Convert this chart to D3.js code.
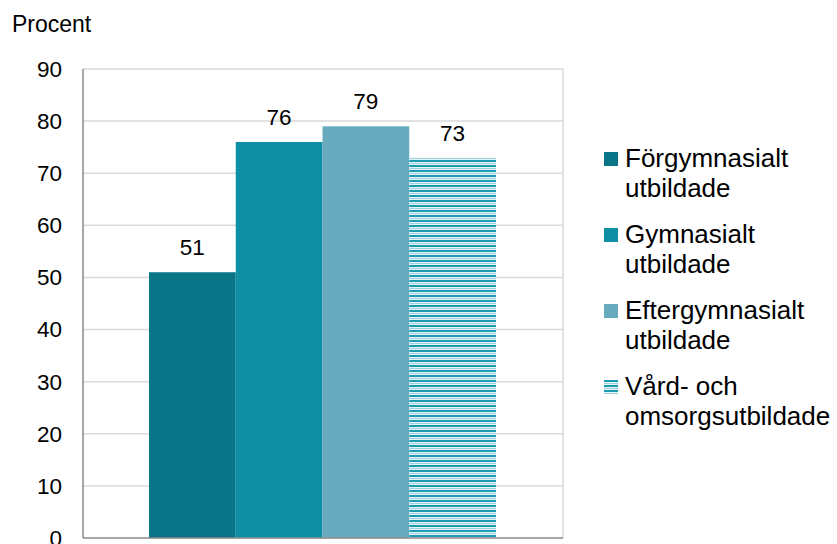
<!DOCTYPE html>
<html>
<head>
<meta charset="utf-8">
<script src="https://cdn.jsdelivr.net/npm/d3@7"></script>
<style>
  body { margin: 0; background: #fff; }
  svg { font-family: 'Liberation Sans', Arial, sans-serif; }
</style>
</head>
<body>
<div id="chart"></div>
<script>
const groups = ['Förgymnasialt utbildade', 'Gymnasialt utbildade', 'Eftergymnasialt utbildade', 'Vård- och omsorgsutbildade'];
const legendLines = [['Förgymnasialt', 'utbildade'], ['Gymnasialt', 'utbildade'], ['Eftergymnasialt', 'utbildade'], ['Vård- och', 'omsorgsutbildade']];
const values = [51, 76, 79, 73];
const yTicks = [0, 10, 20, 30, 40, 50, 60, 70, 80, 90];
const colors = ['#0b7588', '#0f8fa4', '#69abbe', 'url(#stripes)'];

const width = 837;
const height = 544;
const margin = { top: 69, right: 274, bottom: 6, left: 83 };
const svg = d3.select('#chart').append('svg').attr('width', width).attr('height', height);

const defs = svg.append('defs');
const pat = defs.append('pattern').attr('id', 'stripes').attr('patternUnits', 'userSpaceOnUse')
  .attr('width', 8).attr('height', 5);
pat.append('rect').attr('width', 8).attr('height', 5).attr('fill', '#e6f4f7');
pat.append('rect').attr('y', 0).attr('width', 8).attr('height', 2).attr('fill', '#1d9cb1');
pat.append('rect').attr('y', 3).attr('width', 8).attr('height', 1).attr('fill', '#9fd2dc');

const x0 = margin.left;
const x1 = width - margin.right;
const y = d3.scaleLinear().domain([0, 90]).range([height - margin.bottom, margin.top]);
const x = d3.scaleBand().domain(groups).range([x0 + 66, x1 - 67]).padding(0);

// gridlines
svg.append('g').selectAll('line').data(yTicks.filter(d => d > 0)).join('line')
  .attr('x1', x0).attr('x2', x1)
  .attr('y1', d => y(d)).attr('y2', d => y(d))
  .attr('stroke', '#d9d9d9').attr('stroke-width', 1.5);
svg.append('line').attr('x1', x1).attr('x2', x1).attr('y1', y(90)).attr('y2', y(0))
  .attr('stroke', '#d9d9d9').attr('stroke-width', 1.5);

// bars
svg.append('g').selectAll('rect').data(values).join('rect')
  .attr('x', (d, i) => x(groups[i]))
  .attr('width', x.bandwidth())
  .attr('y', d => y(d))
  .attr('height', d => y(0) - y(d))
  .attr('fill', (d, i) => colors[i]);

// value labels
svg.append('g').selectAll('text').data(values).join('text')
  .attr('x', (d, i) => x(groups[i]) + x.bandwidth() / 2)
  .attr('y', d => y(d) - 17)
  .attr('text-anchor', 'middle')
  .attr('font-size', 22.5)
  .attr('fill', '#000')
  .text(d => d);

// axes lines
svg.append('line').attr('x1', x0).attr('x2', x0).attr('y1', y(90)).attr('y2', y(0))
  .attr('stroke', '#888').attr('stroke-width', 1.5);
svg.append('line').attr('x1', x0).attr('x2', x1).attr('y1', y(0)).attr('y2', y(0))
  .attr('stroke', '#888').attr('stroke-width', 1.5);

// y tick labels
svg.append('g').selectAll('text').data(yTicks).join('text')
  .attr('x', 62)
  .attr('y', d => y(d))
  .attr('dy', '0.35em')
  .attr('text-anchor', 'end')
  .attr('font-size', 22.5)
  .text(d => d);

svg.append('text').attr('x', 12).attr('y', 32).attr('font-size', 23).text('Procent');

// legend
const legend = svg.append('g').selectAll('g').data(legendLines).join('g')
  .attr('transform', (d, i) => `translate(604,${167 + i * 76})`);
legend.append('rect').attr('x', 0).attr('y', -15).attr('width', 14).attr('height', 14)
  .attr('fill', (d, i) => colors[i]);
legend.append('text').attr('font-size', 26)
  .selectAll('tspan').data(d => d).join('tspan')
  .attr('x', 21)
  .attr('y', (d, j) => j * 30)
  .text(d => d);
</script>
</body>
</html>
